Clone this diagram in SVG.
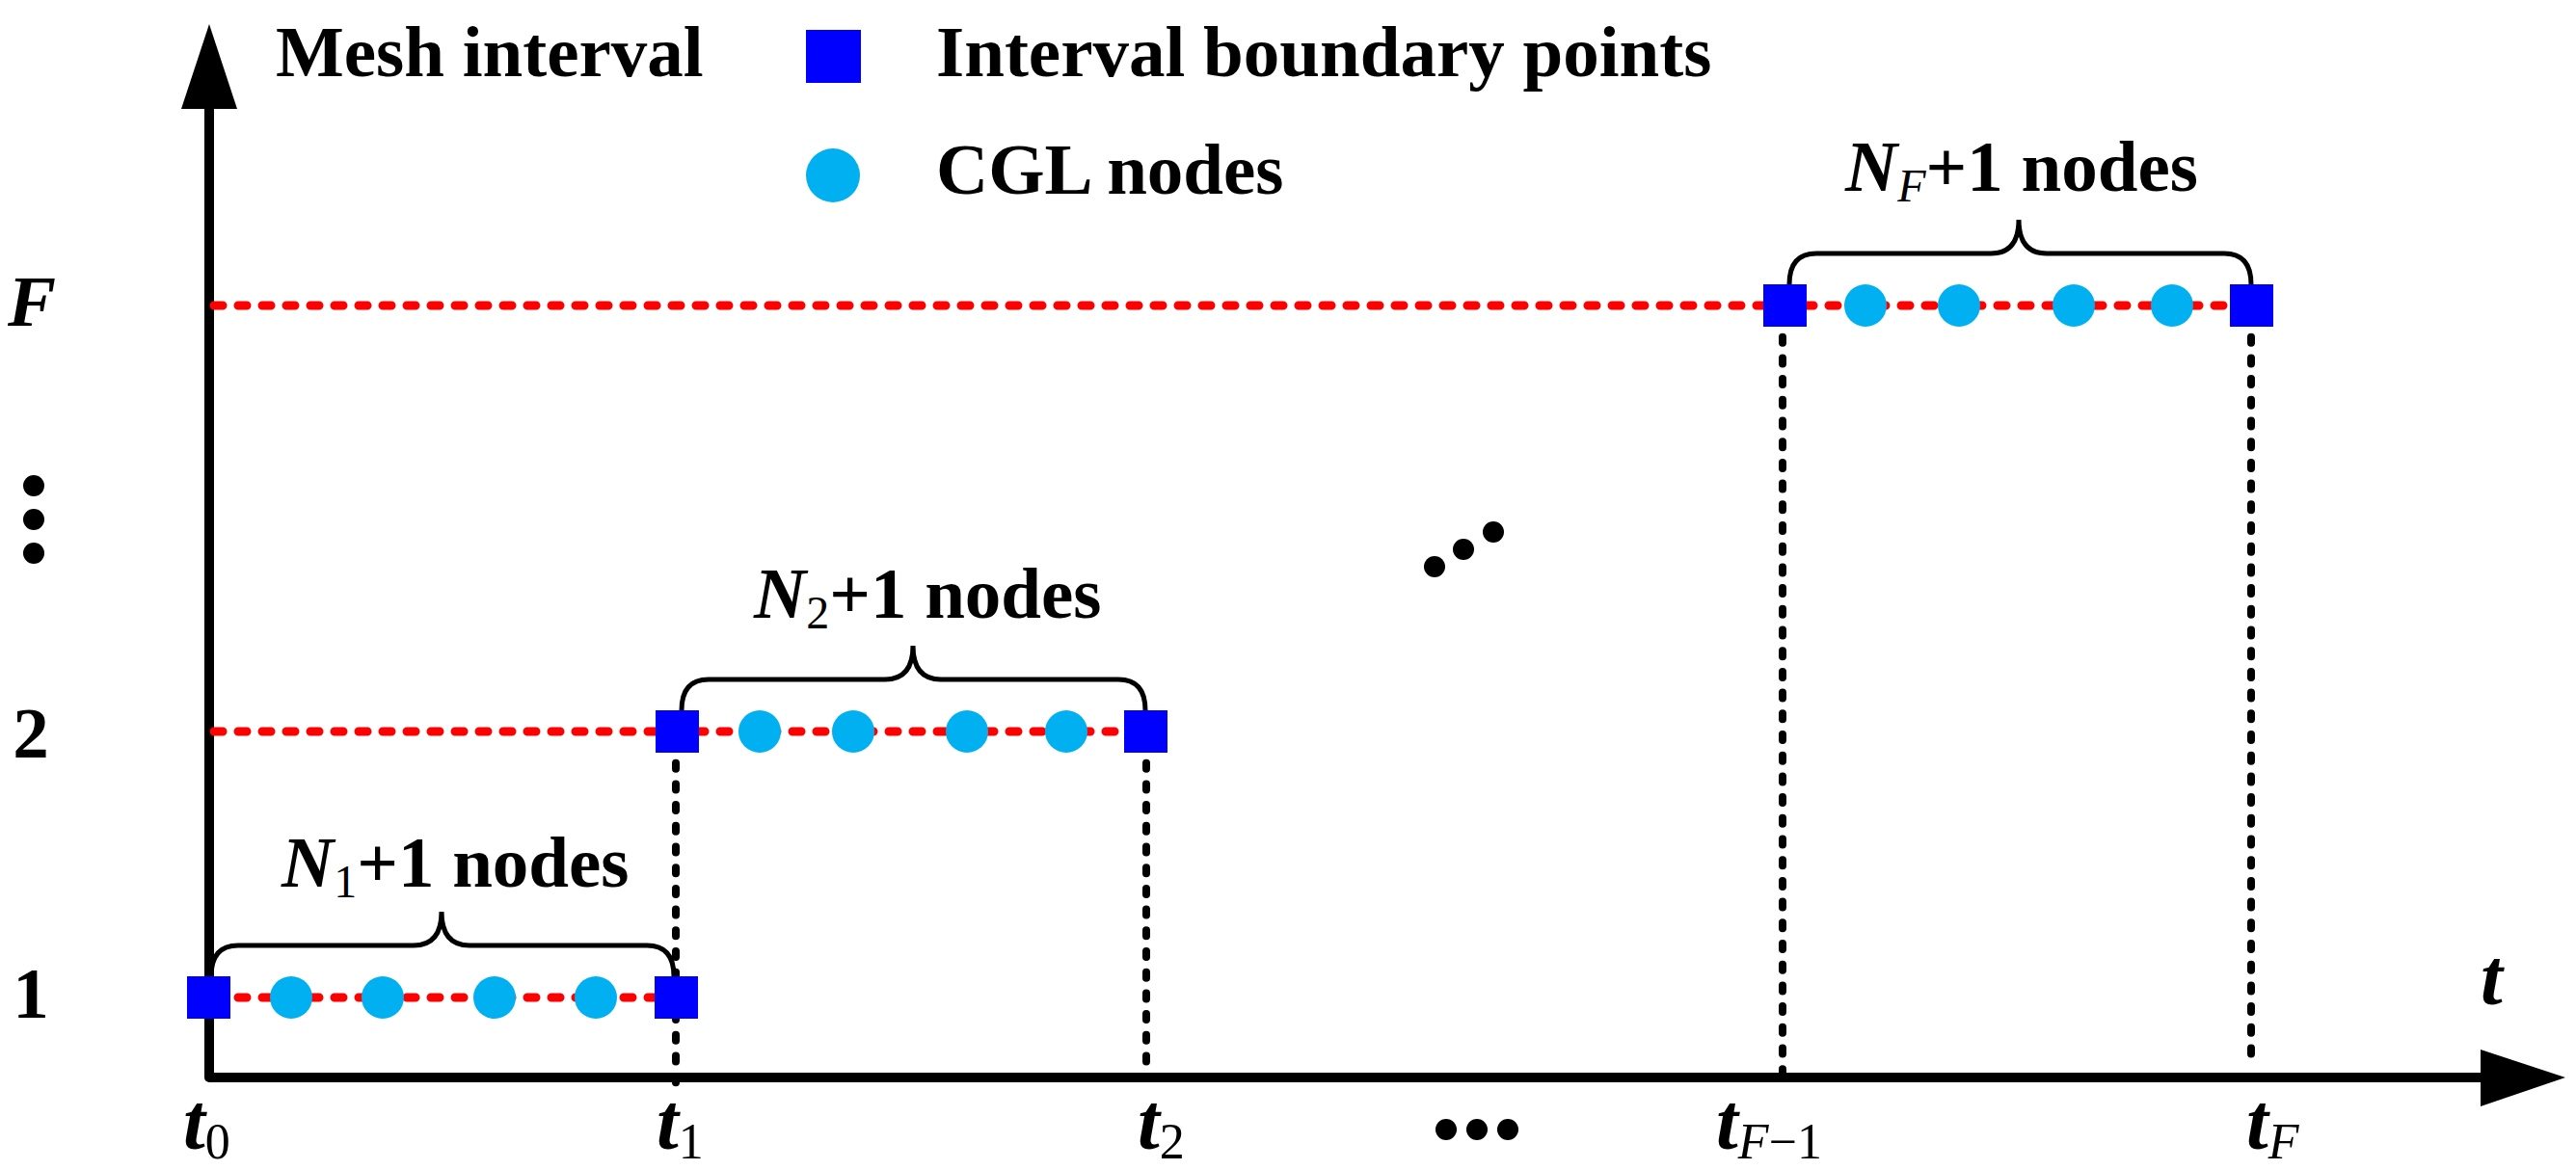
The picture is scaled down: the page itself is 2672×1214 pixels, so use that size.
<svg xmlns="http://www.w3.org/2000/svg" width="2672" height="1214" viewBox="0 0 2672 1214">
<style>
.lbl{font-family:"Liberation Serif","Times New Roman",serif;font-size:75px;font-weight:bold;fill:#000}
.tl{font-size:82px}
.it{font-style:italic}
.sub{font-size:48px;font-weight:normal;font-style:normal}
.subi{font-size:48px;font-weight:normal;font-style:italic}
.tl .sub,.tl .subi{font-size:52px}
.sq{fill:#0000FF}
.cgl{fill:#00B0F0}
.red{stroke:#FF0000;stroke-width:9;stroke-dasharray:9 16;stroke-linecap:round;fill:none}
.vd{stroke:#000;stroke-width:8;stroke-dasharray:6 15.7;stroke-linecap:round;fill:none}
.brace{fill:none;stroke:#000;stroke-width:5}
.axis{stroke:#000;stroke-width:10;fill:none;stroke-linejoin:round}
.dot{fill:#000}
</style>
<rect width="2672" height="1214" fill="#fff"/>
<g id="axes">
  <path class="axis" d="M217,110 L217,1118 L2580,1118"/>
  <polygon points="217,25 188,113 246,113" fill="#000"/>
  <polygon points="2661,1118 2573,1089 2573,1148" fill="#000"/>
</g>
<g id="connectors">
  <line class="red" x1="222" y1="317" x2="2335" y2="317"/>
  <line class="red" x1="222" y1="759" x2="1188" y2="759"/>
  <line class="red" x1="222" y1="1035" x2="701" y2="1035"/>
  <line class="vd" x1="701" y1="770" x2="701" y2="1128"/>
  <line class="vd" x1="1189" y1="770" x2="1189" y2="1112"/>
  <line class="vd" x1="1849" y1="328" x2="1849" y2="1130"/>
  <line class="vd" x1="2335" y1="328" x2="2335" y2="1108"/>
  <path class="brace" d="M219,1013 C219,993 227,981 247,981 L429,981 C450,981 458,967 458,946 C458,967 466,981 487,981 L671,981 C691,981 699,993 699,1013"/>
  <path class="brace" d="M707,737 C707,717 715,705 735,705 L918,705 C939,705 947,691 947,670 C947,691 955,705 976,705 L1160,705 C1180,705 1188,717 1188,737"/>
  <path class="brace" d="M1856,295 C1856,275 1864,263 1884,263 L2065,263 C2086,263 2094,249 2094,228 C2094,249 2102,263 2123,263 L2307,263 C2327,263 2335,275 2335,295"/>
</g>
<g id="interval1">
  <rect class="sq" x="194" y="1013" width="45" height="44"/>
  <rect class="sq" x="679" y="1013" width="45" height="44"/>
  <circle class="cgl" cx="302" cy="1035" r="22"/>
  <circle class="cgl" cx="397" cy="1035" r="22"/>
  <circle class="cgl" cx="513" cy="1035" r="22"/>
  <circle class="cgl" cx="618" cy="1035" r="22"/>
</g>
<g id="interval2">
  <rect class="sq" x="680" y="737" width="45" height="44"/>
  <rect class="sq" x="1166" y="737" width="45" height="44"/>
  <circle class="cgl" cx="788" cy="759" r="22"/>
  <circle class="cgl" cx="885" cy="759" r="22"/>
  <circle class="cgl" cx="1003" cy="759" r="22"/>
  <circle class="cgl" cx="1106" cy="759" r="22"/>
</g>
<g id="intervalF">
  <rect class="sq" x="1829" y="295" width="45" height="44"/>
  <rect class="sq" x="2313" y="295" width="45" height="44"/>
  <circle class="cgl" cx="1935" cy="317" r="22"/>
  <circle class="cgl" cx="2032" cy="317" r="22"/>
  <circle class="cgl" cx="2151" cy="317" r="22"/>
  <circle class="cgl" cx="2253" cy="317" r="22"/>
</g>
<g id="legend">
  <text class="lbl" x="286" y="79">Mesh interval</text>
  <rect class="sq" x="836" y="31" width="57" height="55"/>
  <text class="lbl" x="971" y="79">Interval boundary points</text>
  <circle class="cgl" cx="864" cy="182" r="28"/>
  <text class="lbl" x="971" y="201">CGL nodes</text>
</g>
<g id="labels">
  <text class="lbl" x="292" y="920"><tspan class="it">N</tspan><tspan class="sub" dy="11">1</tspan><tspan dy="-11">+1 nodes</tspan></text>
  <text class="lbl" x="782" y="641"><tspan class="it">N</tspan><tspan class="sub" dy="11">2</tspan><tspan dy="-11">+1 nodes</tspan></text>
  <text class="lbl" x="1914" y="198"><tspan class="it">N</tspan><tspan class="subi" dy="11">F</tspan><tspan dy="-11">+1 nodes</tspan></text>
  <text class="lbl it" x="8" y="338">F</text>
  <text class="lbl" x="32" y="786" text-anchor="middle">2</text>
  <text class="lbl" x="32" y="1056" text-anchor="middle">1</text>
  <text class="lbl it tl" x="2573" y="1042">t</text>
  <text class="lbl it tl" x="190" y="1192">t<tspan class="sub" dy="10">0</tspan></text>
  <text class="lbl it tl" x="681" y="1192">t<tspan class="sub" dy="10">1</tspan></text>
  <text class="lbl it tl" x="1180" y="1192">t<tspan class="sub" dy="10">2</tspan></text>
  <text class="lbl it tl" x="1780" y="1192">t<tspan class="subi" dy="10">F</tspan><tspan class="sub">−1</tspan></text>
  <text class="lbl it tl" x="2330" y="1192">t<tspan class="subi" dy="10">F</tspan></text>
</g>
<g id="ellipses">
  <circle class="dot" cx="35" cy="504" r="11"/>
  <circle class="dot" cx="35" cy="539" r="11"/>
  <circle class="dot" cx="35" cy="574" r="11"/>
  <circle class="dot" cx="1488" cy="588" r="11"/>
  <circle class="dot" cx="1518" cy="570" r="11"/>
  <circle class="dot" cx="1549" cy="552" r="11"/>
  <circle class="dot" cx="1500" cy="1172" r="11"/>
  <circle class="dot" cx="1532" cy="1172" r="11"/>
  <circle class="dot" cx="1564" cy="1172" r="11"/>
</g>
</svg>
